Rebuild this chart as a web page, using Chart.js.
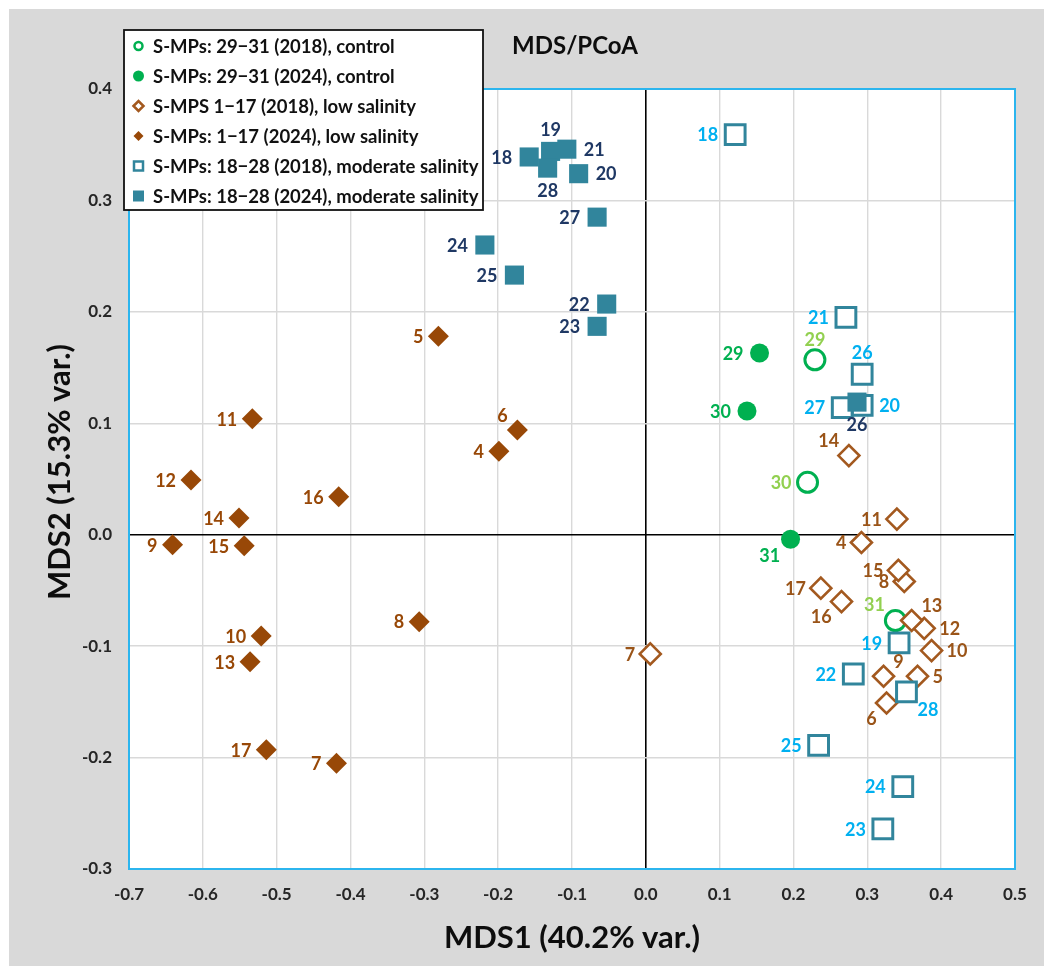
<!DOCTYPE html>
<html>
<head>
<meta charset="utf-8">
<title>MDS/PCoA</title>
<script src="https://cdn.jsdelivr.net/npm/chart.js@4.4.1/dist/chart.umd.min.js"></script>
<style>
  html, body { margin: 0; padding: 0; background: #fff; }
  #frame { position: absolute; left: 9px; top: 9px; width: 1035px; height: 957px; background: #d9d9d9; }
  canvas { display: block; }
</style>
</head>
<body>
<div id="frame"><canvas id="mds" width="1035" height="957"></canvas></div>
<script>
// axis ticks
const xTicks = [-0.7, -0.6, -0.5, -0.4, -0.3, -0.2, -0.1, 0, 0.1, 0.2, 0.3, 0.4, 0.5];
const yTicks = [-0.3, -0.2, -0.1, 0, 0.1, 0.2, 0.3, 0.4];

const seriesNames = [
    "S-MPs: 29\u221231 (2018), control",
    "S-MPs: 29\u221231 (2024), control",
    "S-MPS 1\u221217 (2018), low salinity",
    "S-MPs: 1\u221217 (2024), low salinity",
    "S-MPs: 18\u221228 (2018), moderate salinity",
    "S-MPs: 18\u221228 (2024), moderate salinity"
];

// control sites 29-31
const ctrlIds = [29, 30, 31];
const ctrl2018X = [0.229, 0.219, 0.338];
const ctrl2018Y = [0.157, 0.047, -0.077];
const ctrl2024X = [0.154, 0.137, 0.196];
const ctrl2024Y = [0.163, 0.111, -0.004];

// low salinity sites 4-17
const lowIds = [4, 5, 6, 7, 8, 9, 10, 11, 12, 13, 14, 15, 16, 17];
const low2018X = [0.292, 0.368, 0.326, 0.006, 0.350, 0.322, 0.387, 0.340, 0.377, 0.360, 0.275, 0.342, 0.265, 0.237];
const low2018Y = [-0.007, -0.127, -0.151, -0.107, -0.042, -0.127, -0.104, 0.014, -0.084, -0.077, 0.071, -0.032, -0.060, -0.048];
const low2024X = [-0.199, -0.281, -0.174, -0.419, -0.307, -0.641, -0.521, -0.533, -0.616, -0.536, -0.551, -0.544, -0.416, -0.514];
const low2024Y = [0.075, 0.178, 0.094, -0.205, -0.078, -0.009, -0.091, 0.104, 0.049, -0.114, 0.015, -0.010, 0.034, -0.193];

// moderate salinity sites 18-28
const modIds = [18, 19, 20, 21, 22, 23, 24, 25, 26, 27, 28];
const mod2018X = [0.121, 0.343, 0.293, 0.271, 0.281, 0.321, 0.348, 0.234, 0.293, 0.266, 0.353];
const mod2018Y = [0.359, -0.097, 0.116, 0.195, -0.125, -0.264, -0.226, -0.189, 0.144, 0.114, -0.141];
const mod2024X = [-0.158, -0.129, -0.091, -0.107, -0.053, -0.066, -0.218, -0.178, 0.286, -0.066, -0.133];
const mod2024Y = [0.339, 0.344, 0.324, 0.346, 0.207, 0.187, 0.260, 0.233, 0.119, 0.285, 0.329];

// where each point label sits: l/r/t/b and corners
const ctrl2018Pos = ["t", "l", "tl"];
const ctrl2024Pos = ["l", "l", "bl"];
const low2018Pos = ["l", "r", "bl", "l", "l", "tr", "r", "l", "r", "tr", "tl", "l", "bl", "l"];
const low2024Pos = ["l", "l", "tl", "l", "l", "l", "l", "l", "l", "l", "l", "l", "l", "l"];
const mod2018Pos = ["l", "l", "r", "l", "l", "l", "l", "l", "t", "l", "br"];
const mod2024Pos = ["l", "t", "r", "r", "l", "l", "l", "l", "b", "l", "b"];

const GREEN = "#00b050";
const BROWN = "#984807";
const BROWN_LIGHT = "#a3591f";
const TEAL = "#31859c";
const FONT = "Lato, 'Open Sans', sans-serif";

function pts(xs, ys) {
    return xs.map((x, i) => ({ x: x, y: ys[i] }));
}

const datasets = [
    {
        label: seriesNames[0], data: pts(ctrl2018X, ctrl2018Y), order: 6,
        pointStyle: "circle", pointRadius: 10, pointBorderWidth: 3,
        pointBorderColor: GREEN, pointBackgroundColor: "#fff",
        ids: ctrlIds, labelPos: ctrl2018Pos, labelColor: "#92d050", labelGap: 16, open: true
    },
    {
        label: seriesNames[1], data: pts(ctrl2024X, ctrl2024Y), order: 5,
        pointStyle: "circle", pointRadius: 9.5, pointBorderWidth: 0,
        pointBorderColor: GREEN, pointBackgroundColor: GREEN,
        ids: ctrlIds, labelPos: ctrl2024Pos, labelColor: GREEN, labelGap: 16, open: false
    },
    {
        label: seriesNames[2], data: pts(low2018X, low2018Y), order: 4,
        pointStyle: "rectRot", pointRadius: 10.5, pointBorderWidth: 2.6,
        pointBorderColor: BROWN_LIGHT, pointBackgroundColor: "#fff",
        ids: lowIds, labelPos: low2018Pos, labelColor: "#9a5418", labelGap: 15, open: true
    },
    {
        label: seriesNames[3], data: pts(low2024X, low2024Y), order: 3,
        pointStyle: "rectRot", pointRadius: 10.5, pointBorderWidth: 0,
        pointBorderColor: BROWN, pointBackgroundColor: BROWN,
        ids: lowIds, labelPos: low2024Pos, labelColor: BROWN, labelGap: 15, open: false
    },
    {
        label: seriesNames[4], data: pts(mod2018X, mod2018Y), order: 2,
        pointStyle: "rect", pointRadius: 14, pointBorderWidth: 3,
        pointBorderColor: TEAL, pointBackgroundColor: "#fff",
        ids: modIds, labelPos: mod2018Pos, labelColor: "#00b0f0", labelGap: 17, open: true
    },
    {
        label: seriesNames[5], data: pts(mod2024X, mod2024Y), order: 1,
        pointStyle: "rect", pointRadius: 13.5, pointBorderWidth: 0,
        pointBorderColor: TEAL, pointBackgroundColor: TEAL,
        ids: modIds, labelPos: mod2024Pos, labelColor: "#1f3864", labelGap: 17, open: false
    }
];

function drawMark(ctx, ds, x, y) {
    const col = ds.open ? ds.pointBorderColor : ds.pointBackgroundColor;
    ctx.beginPath();
    if (ds.pointStyle === "circle") {
        ctx.arc(x, y, ds.open ? 4 : 5.5, 0, Math.PI * 2);
    } else if (ds.pointStyle === "rectRot") {
        const r = 5;
        ctx.moveTo(x - r, y); ctx.lineTo(x, y - r); ctx.lineTo(x + r, y); ctx.lineTo(x, y + r);
        ctx.closePath();
    } else {
        const s = ds.open ? 4.5 : 5.5;
        ctx.rect(x - s, y - s, 2 * s, 2 * s);
    }
    if (ds.open) {
        ctx.fillStyle = "#fff";
        ctx.fill();
        ctx.lineWidth = 2.5;
        ctx.strokeStyle = col;
        ctx.stroke();
    } else {
        ctx.fillStyle = col;
        ctx.fill();
    }
}

const decor = {
    id: "decor",
    beforeDraw(chart) {
        // white plot area under the grid
        const { ctx, chartArea: a } = chart;
        ctx.save();
        ctx.fillStyle = "#fff";
        ctx.fillRect(a.left, a.top, a.right - a.left, a.bottom - a.top);
        ctx.restore();
    },
    beforeDatasetsDraw(chart) {
        const { ctx, chartArea: a } = chart;
        ctx.save();
        ctx.strokeStyle = "#2cb5ee";
        ctx.lineWidth = 2;
        ctx.strokeRect(a.left, a.top, a.right - a.left, a.bottom - a.top);
        ctx.restore();
    },
    afterDatasetsDraw(chart) {
        // point labels
        const ctx = chart.ctx;
        ctx.save();
        ctx.font = "bold 18px " + FONT;
        ctx.textBaseline = "middle";
        chart.data.datasets.forEach((ds, di) => {
            const meta = chart.getDatasetMeta(di);
            ctx.fillStyle = ds.labelColor;
            meta.data.forEach((pt, i) => {
                const p = ds.labelPos[i];
                const h = ds.labelGap;
                const diag = p.length === 2;
                let x = pt.x, y = pt.y, align = "center";
                if (p.includes("l")) { x -= diag ? h * 0.65 : h; align = "right"; }
                if (p.includes("r")) { x += diag ? h * 0.65 : h; align = "left"; }
                if (p.includes("t")) y -= diag ? h : h + 5;
                if (p.includes("b")) y += diag ? h : h + 5;
                ctx.textAlign = align;
                ctx.fillText(String(ds.ids[i]), x, y + 1);
            });
        });
        ctx.restore();
    },
    afterDraw(chart) {
        const { ctx, chartArea: a } = chart;
        ctx.save();
        ctx.fillStyle = "#0d0d0d";
        ctx.textAlign = "center";
        ctx.textBaseline = "middle";
        ctx.font = "bold 24px " + FONT;
        ctx.fillText("MDS/PCoA", 566, 37);
        ctx.font = "bold 31px " + FONT;
        ctx.fillText("MDS1 (40.2% var.)", (a.left + a.right) / 2, 929);
        ctx.save();
        ctx.translate(51, 463);
        ctx.rotate(-Math.PI / 2);
        ctx.fillText("MDS2 (15.3% var.)", 0, 0);
        ctx.restore();

        // legend box
        const bx = 115, by = 21, bw = 359, bh = 180;
        ctx.fillStyle = "#fff";
        ctx.fillRect(bx, by, bw, bh);
        ctx.strokeStyle = "#111";
        ctx.lineWidth = 1.8;
        ctx.strokeRect(bx, by, bw, bh);
        ctx.font = "bold 18.5px " + FONT;
        ctx.textAlign = "left";
        chart.data.datasets.forEach((ds, i) => {
            const y = by + 16 + i * 30;
            drawMark(ctx, ds, bx + 14.5, y);
            ctx.fillStyle = "#111";
            ctx.fillText(ds.label, bx + 29, y + 1);
        });
        ctx.restore();
    }
};

const tickFont = { family: FONT, weight: "bold", size: 17 };

new Chart(document.getElementById("mds"), {
    type: "scatter",
    data: { datasets: datasets },
    options: {
        responsive: false,
        animation: false,
        events: [],
        layout: { padding: { left: 0, right: 29, top: 80, bottom: 0 } },
        plugins: { legend: { display: false }, title: { display: false }, tooltip: { enabled: false } },
        scales: {
            x: {
                type: "linear", min: -0.7, max: 0.5,
                afterBuildTicks: s => { s.ticks = xTicks.map(v => ({ value: v })); },
                afterFit: s => { s.height = 97; },
                border: { display: false },
                grid: {
                    drawTicks: false,
                    color: c => (c.tick && Math.abs(c.tick.value) < 1e-9 ? "#000" : "#d9d9d9"),
                    lineWidth: c => (c.tick && Math.abs(c.tick.value) < 1e-9 ? 1.6 : 1.4)
                },
                ticks: { padding: 15, color: "#262626", font: tickFont, callback: v => Number(v).toFixed(1) }
            },
            y: {
                type: "linear", min: -0.3, max: 0.4,
                afterBuildTicks: s => { s.ticks = yTicks.map(v => ({ value: v })); },
                afterFit: s => { s.width = 120; },
                border: { display: false },
                grid: {
                    drawTicks: false,
                    color: c => (c.tick && Math.abs(c.tick.value) < 1e-9 ? "#000" : "#d9d9d9"),
                    lineWidth: c => (c.tick && Math.abs(c.tick.value) < 1e-9 ? 1.6 : 1.4)
                },
                ticks: { padding: 17, color: "#262626", font: tickFont, callback: v => Number(v).toFixed(1) }
            }
        }
    },
    plugins: [decor]
});
</script>
</body>
</html>
